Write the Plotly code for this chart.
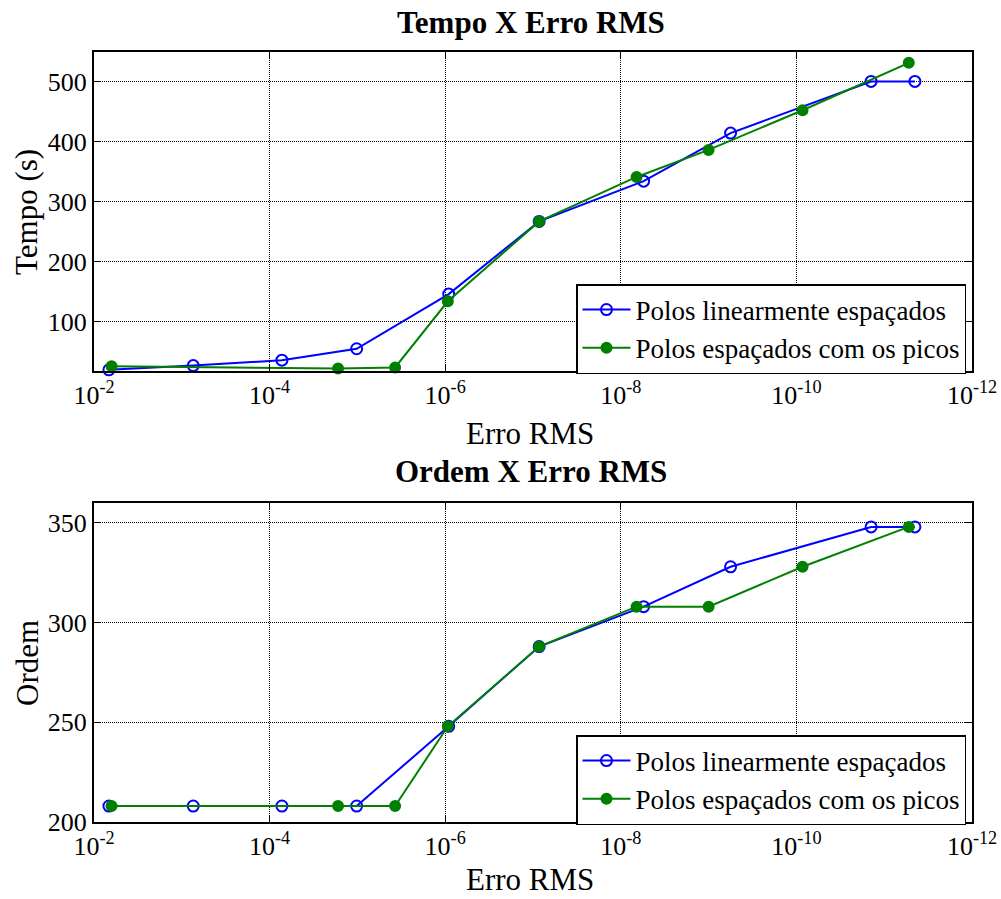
import plotly.graph_objects as go

# ---- data ----
erro_lin = [6.76e-3, 7.41e-4, 7.24e-5, 1.02e-5, 9.12e-7, 8.51e-8, 5.50e-9, 5.62e-10, 1.41e-11, 4.47e-12]
erro_pic = [6.31e-3, 1.66e-5, 3.72e-6, 9.33e-7, 8.51e-8, 6.61e-9, 1.00e-9, 8.51e-11, 5.25e-12]

tempo_lin = [20, 27, 36, 55, 146, 267, 334, 414, 500, 500]
tempo_pic = [26, 22, 24, 134, 267, 341, 386, 452, 531]

ordem_lin = [208, 208, 208, 208, 248, 288, 308, 328, 348, 348]
ordem_pic = [208, 208, 208, 248, 288, 308, 308, 328, 348]

x_tickvals = [1e-2, 1e-4, 1e-6, 1e-8, 1e-10, 1e-12]
x_ticktext = ["10<sup>-2</sup>", "10<sup>-4</sup>", "10<sup>-6</sup>",
              "10<sup>-8</sup>", "10<sup>-10</sup>", "10<sup>-12</sup>"]
tempo_ticks = [100, 200, 300, 400, 500]
ordem_ticks = [200, 250, 300, 350]

name_lin = "Polos linearmente espaçados"
name_pic = "Polos espaçados com os picos"

FONT = "Liberation Serif"
BLUE = "#0000FF"
GREEN = "#008000"

W, H = 1001, 899
L, R, T, B = 94, 29, 52, 77
PH = H - T - B  # 770
PW = W - L - R  # 878


def py(p):  # page pixel y -> paper fraction
    return (H - B - p) / PH


def px(p):  # page pixel x -> paper fraction
    return (p - L) / PW


fig = go.Figure()

for (xs, ys, nm, col, sym, xa, ya, lg) in [
    (erro_lin, tempo_lin, name_lin, BLUE, "circle-open", "x", "y", "legend"),
    (erro_pic, tempo_pic, name_pic, GREEN, "circle", "x", "y", "legend"),
    (erro_lin, ordem_lin, name_lin, BLUE, "circle-open", "x2", "y2", "legend2"),
    (erro_pic, ordem_pic, name_pic, GREEN, "circle", "x2", "y2", "legend2"),
]:
    fig.add_trace(go.Scatter(
        x=xs, y=ys, name=nm, mode="lines+markers",
        line=dict(color=col, width=2),
        marker=dict(symbol=sym, size=11 if sym == "circle-open" else 10,
                    color=col, line=dict(color=col, width=2)),
        xaxis=xa, yaxis=ya, legend=lg, cliponaxis=False,
    ))

axis_common = dict(
    showline=True, linecolor="black", linewidth=2, mirror="allticks",
    ticks="inside", ticklen=7, tickwidth=1, tickcolor="black",
    showgrid=True, gridcolor="black", gridwidth=1, griddash="1px,1px",
    zeroline=False, automargin=False,
    tickfont=dict(family=FONT, size=26, color="black"),
)

top_dom = [py(371), 1.0]
bot_dom = [0.0, py(503)]

leg_common = dict(xanchor="right", yanchor="top",
                  bgcolor="white", bordercolor="black", borderwidth=1.5,
                  font=dict(family=FONT, size=27, color="black"),
                  tracegroupgap=0, itemwidth=48)

fig.update_layout(
    template="none",
    width=W, height=H,
    margin=dict(l=L, r=R, t=T, b=B),
    paper_bgcolor="white", plot_bgcolor="white",
    font=dict(family=FONT, color="black"),
    xaxis=dict(type="log", range=[-2, -12], domain=[0, 1], anchor="y",
               tickvals=x_tickvals, ticktext=x_ticktext, **axis_common),
    yaxis=dict(range=[18, 549], domain=top_dom, anchor="x",
               tickvals=tempo_ticks, **axis_common),
    xaxis2=dict(type="log", range=[-2, -12], domain=[0, 1], anchor="y2",
                tickvals=x_tickvals, ticktext=x_ticktext, **axis_common),
    yaxis2=dict(range=[200, 360], domain=bot_dom, anchor="x2",
                tickvals=ordem_ticks, **axis_common),
    legend=dict(x=px(966), y=py(284), **leg_common),
    legend2=dict(x=px(966), y=py(735), **leg_common),
    showlegend=True,
)

annots = [
    ("<b>Tempo X Erro RMS</b>", px(531), py(22), 0, 31),
    ("<b>Ordem X Erro RMS</b>", px(531), py(472), 0, 31),
    ("Erro RMS", px(530), py(433), 0, 31),
    ("Erro RMS", px(530), py(880), 0, 31),
    ("Tempo (s)", px(27), py(212), -90, 31),
    ("Ordem", px(27), py(663), -90, 31),
]
for txt, ax_, ay_, rot, sz in annots:
    fig.add_annotation(text=txt, x=ax_, y=ay_, xref="paper", yref="paper",
                       xanchor="center", yanchor="middle", showarrow=False,
                       textangle=rot, font=dict(family=FONT, size=sz, color="black"))

# remove the default 8px page margin so the figure fills the window exactly
fig.write_html("out.html",
               config={"displayModeBar": False},
               post_script="document.body.style.margin='0';"
                           "document.body.style.overflow='hidden';")
